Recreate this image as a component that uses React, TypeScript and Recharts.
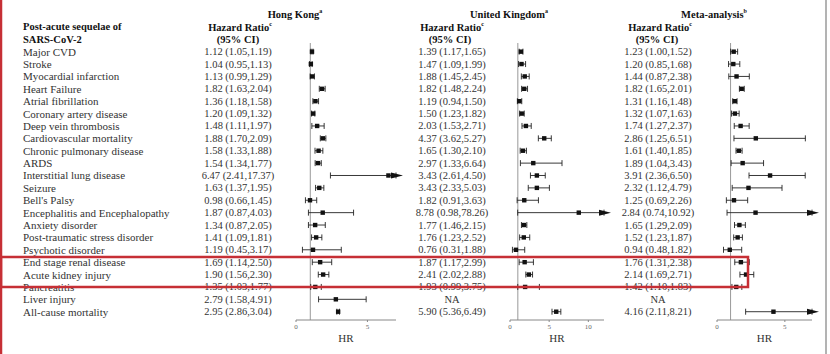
import * as React from "react";
import { ScatterChart, Scatter, XAxis, YAxis, ErrorBar, ReferenceLine } from "recharts";

const FONT = "'Liberation Serif', 'Times New Roman', serif";

const outcomes = [
  "Major CVD",
  "Stroke",
  "Myocardial infarction",
  "Heart Failure",
  "Atrial fibrillation",
  "Coronary artery disease",
  "Deep vein thrombosis",
  "Cardiovascular mortality",
  "Chronic pulmonary disease",
  "ARDS",
  "Interstitial lung disease",
  "Seizure",
  "Bell's Palsy",
  "Encephalitis and Encephalopathy",
  "Anxiety disorder",
  "Post-traumatic stress disorder",
  "Psychotic disorder",
  "End stage renal disease",
  "Acute kidney injury",
  "Pancreatitis",
  "Liver injury",
  "All-cause mortality",
];

const hkHr = [1.12, 1.04, 1.13, 1.82, 1.36, 1.2, 1.48, 1.88, 1.58, 1.54, 6.47, 1.63, 0.98, 1.87, 1.34, 1.41, 1.19, 1.69, 1.9, 1.35, 2.79, 2.95];
const hkLo = [1.05, 0.95, 0.99, 1.63, 1.18, 1.09, 1.11, 1.7, 1.33, 1.34, 2.41, 1.37, 0.66, 0.87, 0.87, 1.09, 0.45, 1.14, 1.56, 1.03, 1.58, 2.86];
const hkHi = [1.19, 1.13, 1.29, 2.04, 1.58, 1.32, 1.97, 2.09, 1.88, 1.77, 17.37, 1.95, 1.45, 4.03, 2.05, 1.81, 3.17, 2.5, 2.3, 1.77, 4.91, 3.04];

const ukHr = [1.39, 1.47, 1.88, 1.82, 1.19, 1.5, 2.03, 4.37, 1.65, 2.97, 3.43, 3.43, 1.82, 8.78, 1.77, 1.76, 0.76, 1.87, 2.41, 1.93, null, 5.9];
const ukLo = [1.17, 1.09, 1.45, 1.48, 0.94, 1.23, 1.53, 3.62, 1.3, 1.33, 2.61, 2.33, 0.91, 0.98, 1.46, 1.23, 0.31, 1.17, 2.02, 0.99, null, 5.36];
const ukHi = [1.65, 1.99, 2.45, 2.24, 1.5, 1.82, 2.71, 5.27, 2.1, 6.64, 4.5, 5.03, 3.63, 78.26, 2.15, 2.52, 1.88, 2.99, 2.88, 3.75, null, 6.49];

const metaHr = [1.23, 1.2, 1.44, 1.82, 1.31, 1.32, 1.74, 2.86, 1.61, 1.89, 3.91, 2.32, 1.25, 2.84, 1.65, 1.52, 0.94, 1.76, 2.14, 1.42, null, 4.16];
const metaLo = [1.0, 0.85, 0.87, 1.65, 1.16, 1.07, 1.27, 1.25, 1.4, 1.04, 2.36, 1.12, 0.69, 0.74, 1.29, 1.23, 0.48, 1.31, 1.69, 1.1, null, 2.11];
const metaHi = [1.52, 1.68, 2.38, 2.01, 1.48, 1.63, 2.37, 6.51, 1.85, 3.43, 6.5, 4.79, 2.26, 10.92, 2.09, 1.87, 1.82, 2.38, 2.71, 1.83, null, 8.21];

const rows = outcomes.map((_, i) => i + 1);
const hkTicks = [0, 5];
const ukTicks = [0, 5, 10];
const metaTicks = [0, 5];

const fmt = (hr: number | null, lo: number | null, hi: number | null) =>
  hr == null ? "NA" : `${hr.toFixed(2)} (${lo!.toFixed(2)},${hi!.toFixed(2)})`;

function toPoints(hr: (number | null)[], lo: (number | null)[], hi: (number | null)[], max: number) {
  const pts: any[] = [];
  hr.forEach((v, i) => {
    if (v == null) return;
    pts.push({ row: i + 1, hr: v, err: [v - (lo[i] as number), Math.min(hi[i] as number, max) - v] });
  });
  return pts;
}

function toArrows(hi: (number | null)[], max: number) {
  const pts: any[] = [];
  hi.forEach((v, i) => {
    if (v != null && v > max) pts.push({ row: i + 1, hr: max });
  });
  return pts;
}

const Square = (p: any) => (
  <rect x={p.cx - 2.2} y={p.cy - 2.2} width={4.4} height={4.4} fill="#111" />
);

const Arrow = (p: any) => (
  <polygon
    points={`${p.cx - 5},${p.cy - 3} ${p.cx + 7},${p.cy} ${p.cx - 5},${p.cy + 3}`}
    fill="#111"
  />
);

const makeTick = (valueX: number, hr: any[], lo: any[], hi: any[], withLabel: boolean) => (p: any) => {
  const i = p.payload.value - 1;
  return (
    <g fontFamily={FONT} fill="#333">
      {withLabel && (
        <text x={23} y={p.y} dominantBaseline="central" fontSize={11}>
          {outcomes[i]}
        </text>
      )}
      <text x={valueX} y={p.y} textAnchor="middle" dominantBaseline="central" fontSize={10.5}>
        {fmt(hr[i], lo[i], hi[i])}
      </text>
    </g>
  );
};

interface PanelProps {
  left: number;
  width: number;
  axisWidth: number;
  right: number;
  max: number;
  ticks: number[];
  hr: (number | null)[];
  lo: (number | null)[];
  hi: (number | null)[];
  tick: (p: any) => React.ReactElement;
}

const Panel: React.FC<PanelProps> = ({ left, width, axisWidth, right, max, ticks, hr, lo, hi, tick }) => (
  <div style={{ position: "absolute", left, top: 0 }}>
    <ScatterChart width={width} height={354} margin={{ top: 43, right, bottom: 4, left: 0 }}>
      <XAxis
        type="number"
        dataKey="hr"
        domain={[0, max]}
        ticks={ticks}
        height={30}
        tickSize={2}
        tickMargin={2}
        axisLine={{ stroke: "#888" }}
        tickLine={{ stroke: "#888" }}
        tick={{ fontSize: 7, fill: "#666", stroke: "none", fontFamily: FONT }}
        label={{ value: "HR", position: "insideBottom", offset: 8, fontSize: 11, fill: "#333", fontFamily: FONT }}
      />
      <YAxis
        type="number"
        dataKey="row"
        domain={[0.3, 22.67]}
        reversed
        ticks={rows}
        interval={0}
        width={axisWidth}
        axisLine={false}
        tickLine={false}
        tick={tick}
      />
      <ReferenceLine x={1} stroke="#999" strokeWidth={1} />
      <Scatter data={toPoints(hr, lo, hi, max)} shape={Square} isAnimationActive={false}>
        <ErrorBar dataKey="err" direction="x" width={3} stroke="#222" strokeWidth={0.9} isAnimationActive={false} />
      </Scatter>
      <Scatter data={toArrows(hi, max)} shape={Arrow} isAnimationActive={false} />
    </ScatterChart>
  </div>
);

const Sup: React.FC<{ t: string }> = ({ t }) => (
  <tspan fontSize={6} dy={-3}>{t}</tspan>
);

export default function App() {
  return (
    <div style={{ position: "absolute", left: 0, top: 0, width: 830, height: 354, background: "#fff", overflow: "hidden" }}>
      <Panel left={0} width={416} axisWidth={296} right={20} max={7} ticks={hkTicks}
        hr={hkHr} lo={hkLo} hi={hkHi} tick={makeTick(238, hkHr, hkLo, hkHi, true)} />
      <Panel left={400} width={220} axisWidth={110} right={16} max={12} ticks={ukTicks}
        hr={ukHr} lo={ukLo} hi={ukHi} tick={makeTick(52, ukHr, ukLo, ukHi, false)} />
      <Panel left={610} width={216} axisWidth={107} right={14} max={7} ticks={metaTicks}
        hr={metaHr} lo={metaLo} hi={metaHi} tick={makeTick(48, metaHr, metaLo, metaHi, false)} />
      <svg width={830} height={354} style={{ position: "absolute", left: 0, top: 0, pointerEvents: "none" }}>
        <g fontFamily={FONT} fontWeight="bold" fontSize={10.5} fill="#111" dominantBaseline="central">
          <text x={23} y={26}>Post-acute sequelae of</text>
          <text x={23} y={39}>SARS-CoV-2</text>
          <text x={295} y={14} textAnchor="middle">Hong Kong<Sup t="a" /></text>
          <text x={509} y={14} textAnchor="middle">United Kingdom<Sup t="a" /></text>
          <text x={714} y={14} textAnchor="middle">Meta-analysis<Sup t="b" /></text>
          <text x={240} y={27} textAnchor="middle">Hazard Ratio<Sup t="c" /></text>
          <text x={238} y={39} textAnchor="middle">(95% CI)</text>
          <text x={452} y={27} textAnchor="middle">Hazard Ratio<Sup t="c" /></text>
          <text x={450} y={39} textAnchor="middle">(95% CI)</text>
          <text x={660} y={27} textAnchor="middle">Hazard Ratio<Sup t="c" /></text>
          <text x={657} y={39} textAnchor="middle">(95% CI)</text>
        </g>
        <line x1={1} y1={0} x2={1} y2={354} stroke="#c62f35" strokeWidth={2.5} />
        <line x1={826} y1={0} x2={826} y2={354} stroke="#9a9a9a" strokeWidth={1.5} />
        <rect x={1} y={257} width={747} height={30} fill="none" stroke="#c62f35" strokeWidth={2.5} />
      </svg>
    </div>
  );
}
